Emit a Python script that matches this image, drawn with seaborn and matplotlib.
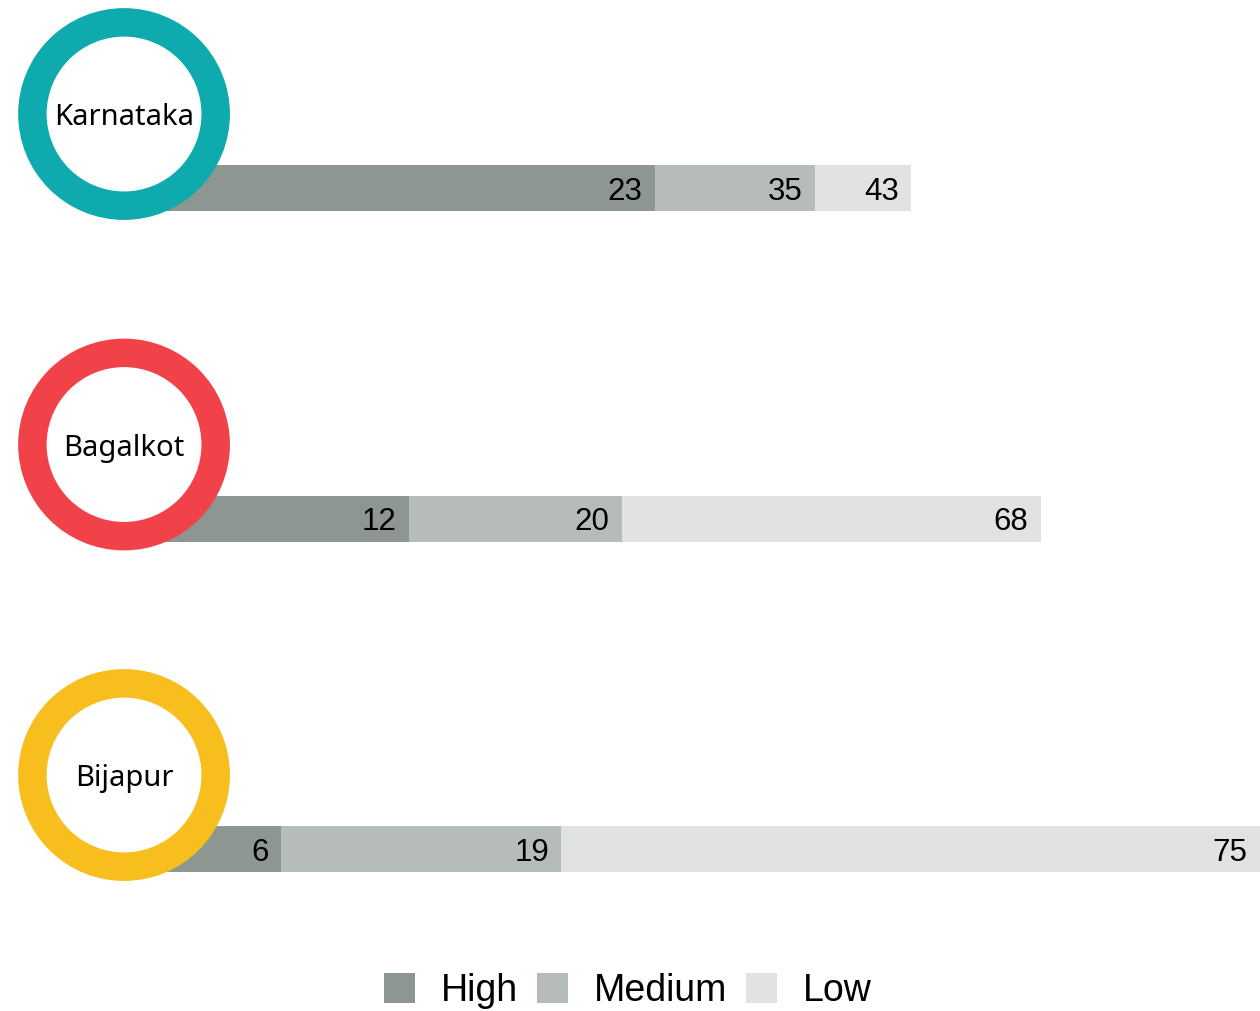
import numpy as np
import pandas as pd
import seaborn as sns
import matplotlib.pyplot as plt
from matplotlib.patches import Patch

# Regions and the printed shares (%)
regions = ['Karnataka', 'Bagalkot', 'Bijapur']
high_pct = [23, 12, 6]
medium_pct = [35, 20, 19]
low_pct = [43, 68, 75]

# Segment lengths as drawn in the source graphic (not proportional to the printed numbers)
high_len = [46.7, 25.1, 13.8]
medium_len = [14.1, 18.7, 24.7]
low_len = [8.5, 36.9, 61.5]

ring_colors = ['#0FAAAE', '#F1424A', '#F8BE1D']
seg_colors = {'High': '#8E9691', 'Medium': '#B6BCB7', 'Low': '#E1E3E2'}

df = pd.DataFrame({'region': regions,
                   'high': high_len, 'medium': medium_len, 'low': low_len})
df['cum_high'] = df['high']
df['cum_medium'] = df['cum_high'] + df['medium']
df['cum_low'] = df['cum_medium'] + df['low']

sns.set_style('white')
plt.rcParams['font.family'] = ['Liberation Sans', 'DejaVu Sans']

fig = plt.figure(figsize=(12.6, 10.11), dpi=100)
ax = fig.add_axes([0, 0, 1, 1])

bar_w = 0.139
# layered cumulative bars, longest first
for col, key in [('cum_low', 'Low'), ('cum_medium', 'Medium'), ('cum_high', 'High')]:
    sns.barplot(data=df, y='region', x=col, orient='h', color=seg_colors[key],
                saturation=1, width=bar_w, linewidth=0, ax=ax)

# value labels, right aligned at the end of each segment
for i in range(len(regions)):
    ends = [df['cum_high'][i], df['cum_medium'][i], df['cum_low'][i]]
    vals = [high_pct[i], medium_pct[i], low_pct[i]]
    for e, v in zip(ends, vals):
        ax.annotate(str(v), xy=(e, i), xytext=(-9, 0), textcoords='offset points',
                    ha='right', va='center_baseline', fontsize=22.5, color='black', zorder=4)

# ring markers with region names
ring_y = np.arange(len(regions)) - 0.224
ax.scatter(np.zeros(len(regions)), ring_y, s=132 ** 2, facecolor='white',
           edgecolor=ring_colors, linewidths=20.5, zorder=5, clip_on=False)
for i, name in enumerate(regions):
    ax.text(0, ring_y[i], name, ha='center', va='center_baseline', fontsize=21,
            family=['Noto Sans', 'DejaVu Sans'], color='black', zorder=6)

ax.set_xlim(-10.92, 100)
ax.set_ylim(2.49, -0.569)
ax.axis('off')

handles = [Patch(facecolor=seg_colors[k], edgecolor='none') for k in ['High', 'Medium', 'Low']]
fig.legend(handles, ['High', 'Medium', 'Low'], loc='center',
           bbox_to_anchor=(628 / 1260, 1 - 991 / 1011), ncol=3, frameon=False,
           fontsize=27, labelcolor='black', handlelength=0.82, handleheight=0.82,
           handletextpad=0.7, columnspacing=0.5)

fig.savefig('out.png', dpi=100)
